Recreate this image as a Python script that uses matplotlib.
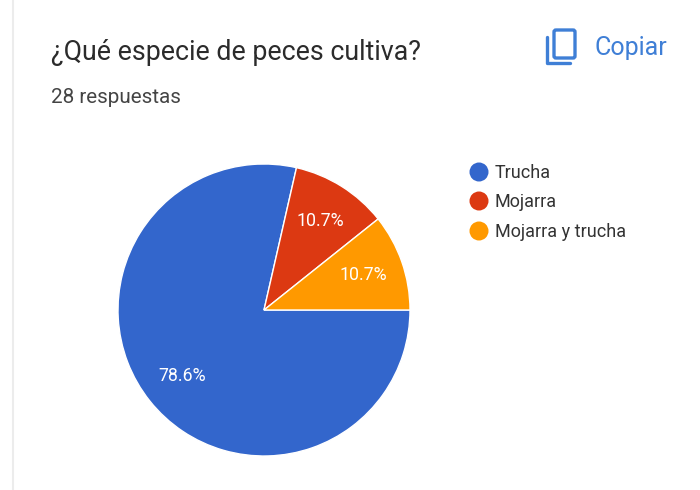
#!/usr/bin/env python3
"""Pie chart of a Google Forms answer summary."""
import matplotlib.pyplot as plt
from matplotlib.patches import Circle, FancyBboxPatch

labels = ["Trucha", "Mojarra", "Mojarra y trucha"]
counts = [22, 3, 3]
colors = ["#3366cc", "#dc3912", "#ff9900"]
title = "¿Qué especie de peces cultiva?"
subtitle = "28 respuestas"

W, H = 700, 490
plt.rcParams["font.family"] = ["Roboto", "DejaVu Sans"]

fig = plt.figure(figsize=(W / 100, H / 100), dpi=100)
bg = fig.add_axes([0, 0, 1, 1])
bg.set_xlim(0, W)
bg.set_ylim(H, 0)
bg.axis("off")

# left edge of the form card
bg.plot([12.5, 12.5], [0, H], color="#ececec", lw=1.5)

bg.text(51, 52, title, fontsize=19.3, color="#2b2b2b", va="center")
bg.text(51, 97, subtitle, fontsize=14.9, color="#444444", va="center")

# copy icon
blue = "#3f7fd6"
bg.add_patch(FancyBboxPatch((554, 30), 21, 28, boxstyle="round,pad=0,rounding_size=2",
                            fill=False, ec=blue, lw=2.4))
bg.plot([547, 547, 570], [37, 63, 63], color=blue, lw=2.4, solid_capstyle="round")
bg.text(595, 48, "Copiar", fontsize=18, color=blue, va="center")

# pie: centre (264, 310), radius 146 px
cx, cy, r = 264, 310, 146
ax = fig.add_axes([(cx - r) / W, 1 - (cy + r) / H, 2 * r / W, 2 * r / H])
ax.pie(counts, colors=colors, startangle=0, counterclock=False, radius=1,
       autopct="%.1f%%", pctdistance=0.72,
       textprops={"color": "white", "fontsize": 12.8},
       wedgeprops={"ec": "white", "lw": 1.0})
ax.set_xlim(-1, 1)
ax.set_ylim(-1, 1)

for y, col, lab in zip([172, 201, 231], colors, labels):
    bg.add_patch(Circle((479, y), 9.5, fc=col, ec="none"))
    bg.text(495, y + 1, lab, fontsize=13, color="#333333", va="center")

fig.savefig("out.png", dpi=100)
